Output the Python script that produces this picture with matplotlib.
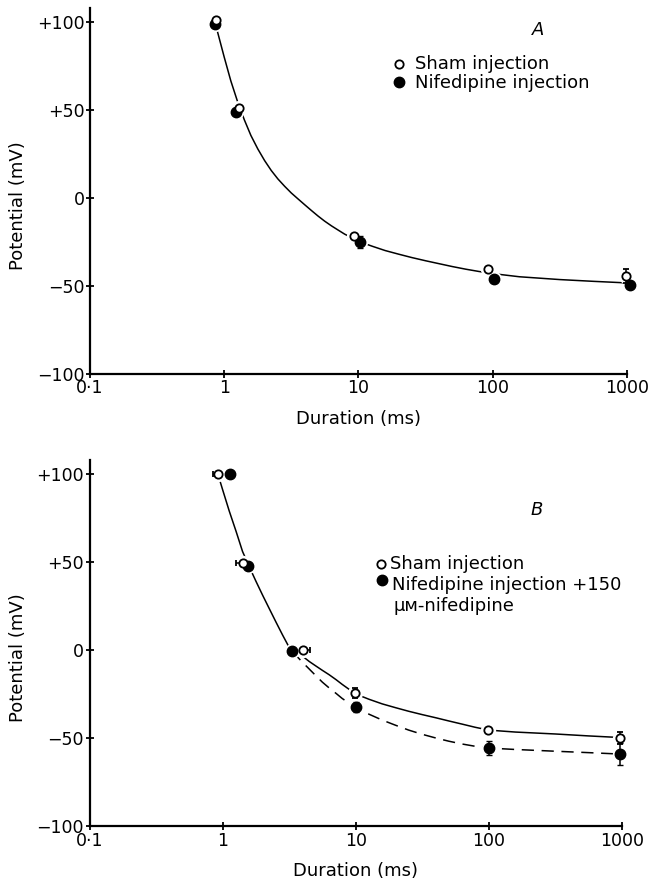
import matplotlib.pyplot as plt
from matplotlib.ticker import NullLocator

plt.rcParams['font.family'] = ['DejaVu Sans']

# ---- panel A: strength-duration points (ms, mV)
a_sham_x = [0.87, 1.29, 9.3, 93, 977]
a_sham_y = [101, 51, -21.6, -40.3, -44.3]
a_sham_yerr = [0, 0, 0, 0, 4]
a_nif_x = [0.86, 1.23, 10.2, 101.6, 1050]
a_nif_y = [99, 49, -25, -46, -49.4]
a_nif_yerr = [0, 0, 3.4, 1.5, 0]

# fitted curve, panel A
a_fit_x = [0.88, 1.0, 1.12, 1.26, 1.41, 1.58, 1.78, 2.0, 2.24, 2.51, 2.82, 3.16,
           3.55, 3.98, 4.47, 5.0, 5.6, 6.3, 7.1, 7.9, 8.9, 10, 11.2, 12.6, 15.8,
           20, 25, 31.6, 40, 50, 63, 79, 100, 158, 316, 562, 1000]
a_fit_y = [96, 80, 66.5, 54.5, 44.5, 35.5, 27.8, 21.2, 15.6, 10.8, 6.6, 2.8,
           -0.6, -3.9, -7.2, -10.3, -13.2, -15.9, -18.4, -20.6, -22.6, -24.4,
           -26.0, -27.4, -29.9, -32.0, -33.9, -35.7, -37.4, -39.0, -40.5, -41.8,
           -43.0, -44.8, -46.4, -47.4, -48.3]

# ---- panel B
b_sham_x = [0.92, 1.42, 4.0, 9.8, 98, 960]
b_sham_y = [100, 49.4, 0, -24.5, -45.5, -50]
b_sham_xerr_lo = [0.07, 0.17, 0, 0, 0, 0]
b_sham_xerr_hi = [0, 0, 0.5, 0, 0, 0]
b_sham_yerr = [0, 0, 0, 3, 0, 3.5]
b_nif_x = [1.13, 1.55, 3.32, 10.1, 100, 960]
b_nif_y = [100, 47.7, -0.6, -32.4, -55.7, -59.1]
b_nif_xerr = [0.06, 0, 0.12, 0, 0, 0]
b_nif_yerr = [0, 0, 0, 3, 3.8, 6.2]

# fitted curves, panel B (solid = sham, dashed = nifedipine)
b_fit_x = [0.92, 1.0, 1.12, 1.26, 1.41, 1.58, 1.78, 2.0, 2.24, 2.51, 2.82, 3.16,
           3.55, 3.98, 4.47, 5.0, 5.6, 6.3, 7.1, 7.9, 8.9, 10, 12.6, 15.8, 20,
           25, 31.6, 40, 50, 63, 79, 100, 158, 316, 562, 960]
b_fit_y = [100, 91, 79, 67.5, 56, 47.5, 39, 31, 23.5, 16, 8.5, 1.5,
           -1.5, -3.5, -6.5, -9, -11.5, -14, -16.8, -19.5, -22.3, -25, -28,
           -30.6, -32.8, -34.8, -36.7, -38.5, -40.3, -42.1, -43.9, -45.5,
           -46.6, -47.7, -48.8, -49.7]
b_fit2_x = [3.32, 3.55, 3.98, 4.47, 5.0, 5.6, 6.3, 7.1, 7.9, 8.9, 10, 12.6,
            15.8, 20, 25, 31.6, 40, 50, 63, 79, 100, 158, 316, 562, 960]
b_fit2_y = [-0.6, -3, -7, -10.8, -14.5, -18.2, -21.5, -24.6, -27.5, -30.2,
            -32.6, -36.5, -39.8, -42.8, -45.5, -47.9, -50.0, -51.8, -53.4,
            -54.7, -55.7, -56.5, -57.5, -58.3, -59.1]

xticks = [0.1, 1, 10, 100, 1000]
xticklabels = ['0·1', '1', '10', '100', '1000']
yticks = [-100, -50, 0, 50, 100]
yticklabels = ['\u2212100', '\u221250', '0', '+50', '+100']


def style_axis(ax):
    ax.set_xscale('log')
    ax.set_xlim(0.1, 1000)
    ax.set_ylim(-100, 108)
    ax.spines[['top', 'right']].set_visible(False)
    ax.spines[['left', 'bottom']].set_linewidth(1.6)
    ax.set_xticks(xticks)
    ax.set_xticklabels(xticklabels)
    ax.xaxis.set_minor_locator(NullLocator())
    ax.set_yticks(yticks)
    ax.set_yticklabels(yticklabels)
    ax.tick_params(direction='inout', length=6, width=1.3, labelsize=12.5, pad=1)
    ax.set_xlabel('Duration (ms)', fontsize=13, labelpad=9)
    ax.set_ylabel('Potential (mV)', fontsize=13)
    ax.yaxis.set_label_coords(-0.118, 0.46)


def halo(ax, x, y):
    # white ring so the fitted line stops short of each symbol
    ax.plot(x, y, 'o', ms=10, color='white', ls='none', clip_on=False, zorder=2.5)


def open_pts(ax, x, y, **kw):
    ax.errorbar(x, y, fmt='o', ms=6, mfc='white', mec='black', mew=1.3,
                ecolor='black', elinewidth=1.1, capsize=2.5, clip_on=False,
                zorder=4, **kw)


def filled_pts(ax, x, y, **kw):
    ax.errorbar(x, y, fmt='o', ms=7.5, mfc='black', mec='black',
                ecolor='black', elinewidth=1.1, capsize=2.5, clip_on=False,
                zorder=3, **kw)


fig = plt.figure(figsize=(6.52, 8.86), dpi=100)
ax_a = fig.add_axes([0.138, 0.578, 0.8236, 0.4131])
ax_b = fig.add_axes([0.1374, 0.0677, 0.8166, 0.4131])

# panel A
ax_a.plot(a_fit_x, a_fit_y, color='black', lw=1.1, zorder=2)
halo(ax_a, a_sham_x + a_nif_x, a_sham_y + a_nif_y)
filled_pts(ax_a, a_nif_x, a_nif_y, yerr=a_nif_yerr)
open_pts(ax_a, a_sham_x, a_sham_y, yerr=a_sham_yerr)
style_axis(ax_a)

ax_a.text(0.834, 0.94, 'A', transform=ax_a.transAxes, fontsize=13,
          style='italic', ha='center', va='center')
ax_a.plot([0.575], [0.847], 'o', ms=6, mfc='white', mec='black', mew=1.3,
          transform=ax_a.transAxes, clip_on=False)
ax_a.text(0.605, 0.847, 'Sham injection', transform=ax_a.transAxes,
          fontsize=13, va='center')
ax_a.plot([0.575], [0.798], 'o', ms=7.5, color='black',
          transform=ax_a.transAxes, clip_on=False)
ax_a.text(0.605, 0.796, 'Nifedipine injection', transform=ax_a.transAxes,
          fontsize=13, va='center')

# panel B
ax_b.plot(b_fit_x, b_fit_y, color='black', lw=1.1, zorder=2)
ax_b.plot(b_fit2_x, b_fit2_y, color='black', lw=1.1, ls=(0, (8, 5)), zorder=2)
halo(ax_b, b_sham_x + b_nif_x, b_sham_y + b_nif_y)
filled_pts(ax_b, b_nif_x, b_nif_y, xerr=b_nif_xerr, yerr=b_nif_yerr)
open_pts(ax_b, b_sham_x, b_sham_y, xerr=[b_sham_xerr_lo, b_sham_xerr_hi],
         yerr=b_sham_yerr)
style_axis(ax_b)

ax_b.text(0.840, 0.863, 'B', transform=ax_b.transAxes, fontsize=13,
          style='italic', ha='center', va='center')
ax_b.plot([0.547], [0.716], 'o', ms=6, mfc='white', mec='black', mew=1.3,
          transform=ax_b.transAxes, clip_on=False)
ax_b.text(0.564, 0.716, 'Sham injection', transform=ax_b.transAxes,
          fontsize=13, va='center')
ax_b.plot([0.549], [0.672], 'o', ms=7.5, color='black',
          transform=ax_b.transAxes, clip_on=False)
ax_b.text(0.568, 0.658, 'Nifedipine injection +150', transform=ax_b.transAxes,
          fontsize=13, va='center')
ax_b.text(0.570, 0.601, '\u03bc\u1d0d-nifedipine', transform=ax_b.transAxes,
          fontsize=13, va='center')

fig.savefig('out.png', dpi=100)
